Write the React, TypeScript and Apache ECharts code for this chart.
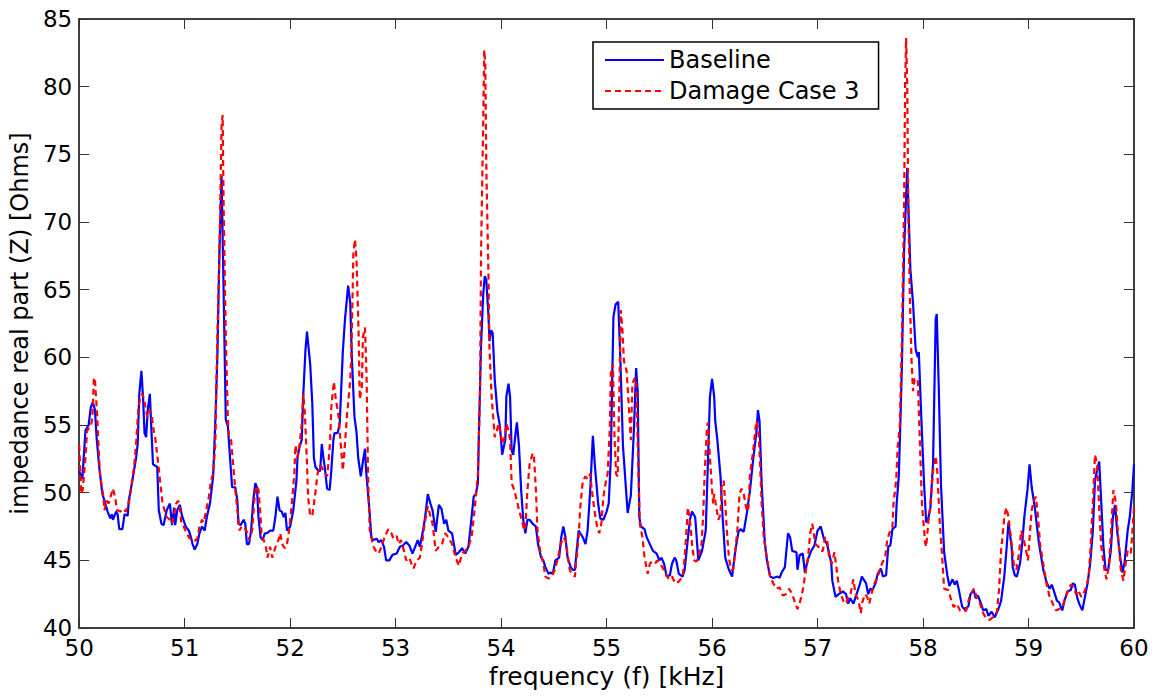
import React, { useEffect, useRef } from "react";
import * as echarts from "echarts";

const FONT = "DejaVu Sans";

const xTitle = "frequency (f) [kHz]";
const yTitle = "impedance real part (Z) [Ohms]";
const seriesNames = ["Baseline", "Damage Case 3"];

const baseFreq = [
  50.0, 50.03, 50.06, 50.09, 50.11, 50.13, 50.15, 50.165, 50.19, 50.22, 50.24, 50.27, 50.295, 50.31, 50.32, 50.35, 50.365, 50.38, 50.41, 50.43,
  50.46, 50.47, 50.5, 50.54, 50.555, 50.57, 50.59, 50.605, 50.62, 50.635, 50.65, 50.67, 50.685, 50.7, 50.72, 50.74, 50.755, 50.78, 50.8, 50.83,
  50.86, 50.88, 50.9, 50.91, 50.93, 50.955, 50.975, 51.01, 51.04, 51.06, 51.075, 51.095, 51.12, 51.14, 51.165, 51.19, 51.21, 51.24, 51.27, 51.29,
  51.31, 51.33, 51.35, 51.37, 51.39, 51.41, 51.43, 51.45, 51.48, 51.5, 51.51, 51.53, 51.56, 51.575, 51.59, 51.61, 51.63, 51.65, 51.67, 51.685,
  51.7, 51.72, 51.74, 51.76, 51.78, 51.81, 51.84, 51.86, 51.88, 51.9, 51.92, 51.94, 51.955, 51.97, 52.0, 52.03, 52.06, 52.07, 52.09, 52.11,
  52.125, 52.145, 52.16, 52.19, 52.21, 52.225, 52.24, 52.27, 52.285, 52.3, 52.315, 52.33, 52.35, 52.375, 52.39, 52.41, 52.42, 52.45, 52.47, 52.5,
  52.52, 52.55, 52.57, 52.585, 52.61, 52.63, 52.645, 52.67, 52.69, 52.71, 52.72, 52.75, 52.77, 52.79, 52.82, 52.84, 52.865, 52.89, 52.91, 52.94,
  52.97, 53.01, 53.04, 53.07, 53.1, 53.13, 53.16, 53.18, 53.21, 53.23, 53.26, 53.28, 53.305, 53.33, 53.35, 53.38, 53.41, 53.435, 53.46, 53.48,
  53.5, 53.535, 53.57, 53.6, 53.63, 53.66, 53.69, 53.72, 53.74, 53.76, 53.78, 53.79, 53.81, 53.83, 53.845, 53.86, 53.88, 53.89, 53.905, 53.92,
  53.94, 53.965, 53.985, 54.0, 54.01, 54.04, 54.05, 54.07, 54.085, 54.1, 54.115, 54.14, 54.15, 54.17, 54.19, 54.21, 54.23, 54.25, 54.27, 54.3,
  54.33, 54.35, 54.38, 54.4, 54.42, 54.45, 54.47, 54.49, 54.515, 54.55, 54.57, 54.59, 54.61, 54.63, 54.66, 54.68, 54.7, 54.71, 54.735, 54.75,
  54.775, 54.8, 54.82, 54.845, 54.87, 54.89, 54.92, 54.94, 54.97, 55.0, 55.02, 55.04, 55.055, 55.065, 55.085, 55.11, 55.13, 55.155, 55.18, 55.2,
  55.23, 55.26, 55.28, 55.295, 55.31, 55.325, 55.36, 55.38, 55.41, 55.44, 55.475, 55.5, 55.52, 55.545, 55.57, 55.6, 55.62, 55.645, 55.66, 55.685,
  55.72, 55.74, 55.765, 55.79, 55.81, 55.84, 55.87, 55.905, 55.94, 55.96, 55.98, 56.0, 56.02, 56.03, 56.05, 56.08, 56.1, 56.125, 56.16, 56.19,
  56.22, 56.25, 56.27, 56.3, 56.33, 56.36, 56.39, 56.42, 56.435, 56.45, 56.47, 56.5, 56.52, 56.55, 56.58, 56.62, 56.64, 56.66, 56.69, 56.72,
  56.74, 56.76, 56.8, 56.81, 56.83, 56.86, 56.88, 56.91, 56.94, 56.97, 57.0, 57.03, 57.06, 57.09, 57.13, 57.14, 57.17, 57.2, 57.24, 57.27,
  57.29, 57.31, 57.34, 57.37, 57.4, 57.42, 57.46, 57.48, 57.5, 57.52, 57.55, 57.57, 57.6, 57.62, 57.65, 57.67, 57.69, 57.71, 57.74, 57.75,
  57.77, 57.785, 57.8, 57.82, 57.85, 57.865, 57.88, 57.905, 57.93, 57.95, 57.96, 57.985, 58.01, 58.03, 58.05, 58.07, 58.095, 58.12, 58.13, 58.15,
  58.17, 58.2, 58.23, 58.25, 58.28, 58.3, 58.32, 58.34, 58.37, 58.39, 58.43, 58.45, 58.48, 58.5, 58.52, 58.55, 58.57, 58.6, 58.62, 58.65,
  58.68, 58.71, 58.74, 58.77, 58.79, 58.81, 58.84, 58.85, 58.87, 58.89, 58.92, 58.94, 58.96, 58.99, 59.01, 59.03, 59.06, 59.08, 59.1, 59.14,
  59.17, 59.2, 59.22, 59.25, 59.27, 59.29, 59.32, 59.34, 59.37, 59.4, 59.42, 59.44, 59.46, 59.48, 59.51, 59.535, 59.56, 59.585, 59.61, 59.63,
  59.65, 59.67, 59.69, 59.71, 59.73, 59.755, 59.78, 59.8, 59.82, 59.84, 59.87, 59.89, 59.91, 59.94, 59.96, 59.985, 60.0,
];
const baseZ = [
  51.6, 51.0, 54.6, 55.0, 56.3, 56.7, 56.1, 54.1, 51.9, 49.9, 49.4, 48.6, 48.1, 48.4, 48.0, 48.6, 48.4, 47.3, 47.3, 48.4,
  48.3, 49.4, 50.7, 52.6, 53.6, 57.3, 59.0, 57.1, 54.4, 54.1, 56.1, 57.3, 54.6, 52.1, 52.0, 51.9, 48.7, 47.7, 47.6, 48.7,
  49.2, 47.6, 48.9, 47.6, 48.7, 49.1, 48.3, 47.5, 47.2, 46.7, 46.2, 45.8, 46.2, 47.0, 47.5, 47.2, 48.2, 49.2, 51.2, 55.1,
  60.0, 68.0, 73.4, 64.6, 55.4, 54.9, 52.6, 50.4, 50.4, 49.4, 47.7, 47.6, 48.0, 47.7, 46.2, 46.2, 47.2, 49.4, 50.7, 50.4,
  48.2, 46.7, 46.5, 47.0, 47.0, 47.2, 47.2, 48.2, 49.7, 48.7, 48.6, 48.2, 48.5, 47.2, 47.5, 48.7, 50.9, 52.6, 53.4, 53.9,
  57.3, 60.5, 61.9, 59.5, 56.6, 52.6, 51.9, 51.6, 51.6, 53.6, 52.6, 51.8, 50.3, 50.2, 51.6, 53.9, 54.4, 54.4, 55.1, 60.5,
  62.8, 65.3, 64.0, 60.0, 55.6, 54.4, 52.6, 51.2, 52.3, 53.25, 51.65, 48.9, 46.7, 46.5, 46.6, 46.35, 46.5, 46.0, 45.0, 45.0,
  45.4, 45.5, 46.0, 46.1, 46.35, 46.1, 45.5, 45.9, 46.5, 46.0, 47.2, 48.2, 49.9, 49.2, 48.7, 47.1, 49.1, 48.8, 47.7, 48.0,
  47.2, 47.0, 45.4, 45.6, 45.9, 45.5, 46.0, 48.2, 49.7, 49.9, 50.7, 54.6, 60.9, 64.6, 66.0, 65.7, 63.1, 61.2, 62.0, 61.8,
  58.3, 56.0, 55.1, 53.9, 52.8, 53.9, 57.1, 58.05, 57.1, 53.1, 52.8, 54.6, 55.2, 53.4, 50.2, 48.0, 47.0, 48.0, 48.0, 47.7,
  47.5, 46.2, 45.2, 45.0, 44.5, 44.0, 44.1, 44.0, 45.0, 45.2, 46.7, 47.5, 46.7, 45.2, 44.5, 44.3, 44.3, 45.2, 47.2, 47.0,
  46.7, 46.2, 47.2, 50.2, 54.2, 51.9, 49.2, 48.1, 48.0, 48.6, 49.2, 52.5, 59.0, 63.0, 63.9, 64.1, 60.0, 53.5, 50.7, 48.5,
  49.8, 54.8, 59.2, 57.5, 48.2, 47.5, 47.3, 46.7, 46.2, 45.7, 45.5, 45.0, 45.2, 44.75, 43.8, 43.9, 44.75, 45.2, 45.0, 44.0,
  43.8, 44.3, 46.2, 48.0, 48.6, 48.2, 45.0, 45.7, 47.2, 52.1, 57.1, 58.4, 57.1, 55.3, 53.9, 51.2, 48.2, 45.2, 44.3, 43.8,
  45.7, 47.1, 47.3, 47.1, 48.5, 50.2, 52.5, 54.4, 56.1, 55.3, 50.7, 46.3, 45.0, 43.8, 43.7, 43.8, 43.7, 44.1, 44.5, 47.0,
  46.7, 45.7, 45.6, 44.3, 45.4, 45.5, 44.1, 45.1, 45.7, 46.1, 47.2, 47.5, 46.6, 46.2, 44.8, 43.5, 42.3, 42.5, 42.7, 42.5,
  41.8, 42.2, 41.8, 42.5, 43.2, 43.8, 43.3, 42.5, 42.9, 42.8, 43.3, 44.0, 44.4, 43.8, 43.9, 46.0, 46.1, 47.3, 47.5, 49.2,
  51.2, 55.1, 59.5, 67.8, 74.0, 70.2, 66.5, 64.0, 60.6, 60.0, 60.4, 55.3, 50.6, 47.8, 48.1, 48.9, 52.2, 62.8, 63.2, 57.5,
  50.6, 45.6, 43.9, 43.1, 43.6, 43.2, 43.5, 42.8, 41.6, 41.4, 41.6, 42.5, 42.8, 42.2, 42.4, 41.8, 41.3, 41.4, 40.9, 41.2,
  40.8, 41.3, 42.0, 43.8, 45.7, 47.8, 46.0, 44.5, 43.9, 43.8, 44.8, 46.2, 48.2, 50.2, 52.1, 50.4, 48.9, 47.5, 46.2, 44.3,
  43.4, 42.9, 43.2, 42.5, 42.0, 41.9, 41.3, 42.0, 42.7, 42.8, 43.3, 43.2, 42.3, 41.8, 41.3, 42.3, 43.3, 44.8, 47.2, 50.9,
  51.65, 52.3, 49.2, 46.0, 44.3, 44.3, 45.7, 48.2, 49.1, 47.2, 45.2, 44.1, 44.8, 47.2, 48.2, 50.2, 52.1,
];

const damFreq = [
  50.0, 50.02, 50.035, 50.06, 50.075, 50.11, 50.125, 50.14, 50.15, 50.17, 50.19, 50.2, 50.23, 50.24, 50.26, 50.28, 50.305, 50.32, 50.34, 50.36,
  50.39, 50.42, 50.44, 50.47, 50.49, 50.52, 50.54, 50.56, 50.58, 50.6, 50.62, 50.645, 50.67, 50.69, 50.71, 50.72, 50.75, 50.77, 50.79, 50.81,
  50.83, 50.86, 50.88, 50.9, 50.92, 50.94, 50.95, 50.97, 50.99, 51.02, 51.04, 51.07, 51.09, 51.12, 51.14, 51.165, 51.18, 51.21, 51.23, 51.25,
  51.27, 51.29, 51.31, 51.33, 51.35, 51.36, 51.37, 51.39, 51.41, 51.42, 51.44, 51.46, 51.48, 51.5, 51.52, 51.54, 51.56, 51.59, 51.615, 51.64,
  51.66, 51.68, 51.7, 51.72, 51.73, 51.75, 51.77, 51.785, 51.81, 51.83, 51.85, 51.87, 51.89, 51.905, 51.93, 51.95, 51.97, 51.99, 52.01, 52.04,
  52.05, 52.07, 52.09, 52.11, 52.125, 52.14, 52.16, 52.17, 52.19, 52.21, 52.235, 52.26, 52.28, 52.3, 52.32, 52.35, 52.36, 52.38, 52.39, 52.415,
  52.43, 52.46, 52.47, 52.49, 52.5, 52.52, 52.54, 52.57, 52.58, 52.6, 52.615, 52.63, 52.65, 52.66, 52.68, 52.69, 52.71, 52.725, 52.74, 52.755,
  52.79, 52.82, 52.84, 52.865, 52.9, 52.93, 52.96, 52.98, 53.01, 53.03, 53.05, 53.08, 53.1, 53.13, 53.15, 53.17, 53.2, 53.23, 53.25, 53.275,
  53.305, 53.35, 53.38, 53.41, 53.44, 53.47, 53.5, 53.535, 53.57, 53.6, 53.63, 53.66, 53.69, 53.72, 53.755, 53.78, 53.8, 53.81, 53.83, 53.84,
  53.85, 53.86, 53.88, 53.89, 53.91, 53.93, 53.94, 53.96, 53.975, 53.99, 54.006, 54.02, 54.04, 54.05, 54.07, 54.085, 54.1, 54.125, 54.15, 54.17,
  54.195, 54.22, 54.23, 54.25, 54.27, 54.295, 54.31, 54.33, 54.345, 54.37, 54.4, 54.42, 54.45, 54.48, 54.51, 54.54, 54.565, 54.59, 54.61, 54.63,
  54.65, 54.67, 54.7, 54.71, 54.735, 54.75, 54.775, 54.8, 54.82, 54.845, 54.86, 54.885, 54.91, 54.93, 54.95, 54.97, 54.995, 55.01, 55.03, 55.04,
  55.06, 55.075, 55.09, 55.105, 55.12, 55.135, 55.15, 55.165, 55.19, 55.215, 55.23, 55.245, 55.27, 55.28, 55.3, 55.315, 55.34, 55.36, 55.39, 55.41,
  55.43, 55.46, 55.48, 55.5, 55.53, 55.56, 55.59, 55.62, 55.65, 55.68, 55.72, 55.74, 55.76, 55.77, 55.79, 55.81, 55.83, 55.85, 55.87, 55.9,
  55.915, 55.93, 55.95, 55.96, 55.98, 56.0, 56.01, 56.02, 56.04, 56.06, 56.08, 56.09, 56.11, 56.125, 56.14, 56.16, 56.18, 56.2, 56.22, 56.24,
  56.26, 56.28, 56.3, 56.33, 56.345, 56.36, 56.39, 56.41, 56.42, 56.44, 56.455, 56.47, 56.49, 56.52, 56.55, 56.58, 56.61, 56.64, 56.67, 56.7,
  56.73, 56.76, 56.79, 56.81, 56.83, 56.86, 56.88, 56.91, 56.93, 56.95, 56.96, 56.98, 57.01, 57.03, 57.05, 57.07, 57.09, 57.11, 57.135, 57.16,
  57.17, 57.195, 57.22, 57.245, 57.27, 57.29, 57.31, 57.34, 57.36, 57.39, 57.41, 57.42, 57.45, 57.47, 57.49, 57.52, 57.54, 57.57, 57.59, 57.61,
  57.64, 57.66, 57.68, 57.71, 57.72, 57.745, 57.76, 57.78, 57.8, 57.82, 57.83, 57.84, 57.85, 57.86, 57.875, 57.89, 57.905, 57.92, 57.95, 57.97,
  57.99, 58.02, 58.03, 58.05, 58.07, 58.095, 58.12, 58.135, 58.16, 58.18, 58.2, 58.24, 58.27, 58.29, 58.32, 58.35, 58.38, 58.41, 58.44, 58.48,
  58.51, 58.54, 58.57, 58.6, 58.63, 58.665, 58.7, 58.72, 58.74, 58.77, 58.79, 58.81, 58.84, 58.86, 58.885, 58.91, 58.93, 58.95, 58.97, 58.995,
  59.01, 59.03, 59.05, 59.07, 59.09, 59.11, 59.14, 59.17, 59.2, 59.23, 59.26, 59.29, 59.32, 59.36, 59.38, 59.4, 59.43, 59.45, 59.47, 59.5,
  59.52, 59.545, 59.57, 59.585, 59.61, 59.63, 59.65, 59.67, 59.69, 59.72, 59.74, 59.765, 59.79, 59.805, 59.83, 59.85, 59.875, 59.9, 59.92, 59.94,
  59.97, 59.985, 60.0,
];
const damZ = [
  53.5, 49.9, 50.3, 52.6, 54.6, 54.9, 55.5, 58.5, 58.3, 55.8, 52.4, 51.2, 49.7, 48.7, 49.4, 49.2, 49.9, 50.3, 49.7, 48.7,
  48.6, 48.8, 48.6, 49.2, 50.2, 51.9, 53.6, 56.1, 57.1, 57.3, 56.7, 55.6, 56.1, 55.6, 54.4, 54.1, 52.1, 50.7, 49.2, 48.7,
  48.2, 48.0, 47.7, 48.4, 49.2, 49.4, 49.1, 47.7, 47.5, 47.0, 46.7, 46.5, 46.4, 46.6, 47.5, 48.0, 47.8, 48.9, 49.7, 50.9,
  51.4, 53.5, 61.5, 67.8, 77.1, 77.9, 70.9, 61.5, 55.3, 54.1, 53.9, 52.1, 50.2, 48.7, 47.2, 47.5, 47.5, 47.1, 46.5, 47.2,
  49.4, 50.5, 50.2, 48.2, 46.7, 46.5, 46.0, 45.2, 46.0, 45.2, 45.7, 46.2, 46.5, 47.0, 46.1, 45.9, 46.2, 47.2, 48.7, 51.4,
  53.5, 52.6, 53.6, 55.1, 57.3, 55.8, 52.1, 49.7, 48.3, 48.3, 49.7, 51.4, 52.0, 51.9, 51.5, 51.2, 51.9, 53.9, 56.3, 58.2,
  57.1, 55.6, 54.6, 52.6, 51.65, 53.6, 55.8, 58.3, 60.0, 67.8, 68.7, 67.1, 61.5, 56.9, 57.8, 61.5, 62.2, 58.4, 50.7, 47.2,
  46.0, 45.6, 45.5, 46.0, 46.8, 47.3, 47.0, 46.6, 46.8, 46.2, 46.5, 45.7, 45.0, 45.2, 44.75, 44.4, 45.0, 45.2, 46.2, 47.7,
  49.0, 47.7, 45.7, 46.0, 46.2, 47.0, 46.7, 46.2, 45.2, 44.6, 45.5, 45.7, 46.0, 46.7, 49.2, 51.4, 57.1, 67.8, 77.1, 82.7,
  81.7, 74.0, 66.2, 60.6, 57.1, 55.1, 54.1, 54.6, 55.1, 54.6, 53.9, 53.6, 54.4, 55.1, 54.6, 53.9, 50.7, 50.2, 49.4, 48.7,
  48.0, 47.2, 47.5, 50.2, 52.1, 52.8, 52.9, 50.2, 47.2, 45.7, 44.75, 43.8, 43.65, 43.8, 44.3, 45.2, 46.2, 46.7, 46.5, 45.5,
  44.3, 44.0, 43.8, 44.75, 46.7, 48.9, 50.9, 51.2, 51.0, 51.4, 50.2, 48.7, 47.5, 47.0, 47.7, 49.7, 50.9, 51.4, 54.6, 58.8,
  59.5, 54.1, 51.4, 51.2, 57.1, 63.5, 62.0, 59.7, 59.0, 55.8, 53.9, 58.1, 58.5, 58.4, 52.1, 47.7, 46.7, 45.2, 44.0, 44.75,
  44.9, 44.75, 45.0, 44.75, 44.5, 44.0, 43.6, 43.8, 43.3, 43.4, 43.8, 45.2, 47.5, 48.9, 48.0, 46.2, 45.0, 44.9, 45.2, 46.2,
  48.2, 51.4, 54.6, 55.2, 52.6, 50.2, 49.2, 49.9, 48.9, 48.0, 48.4, 50.4, 50.9, 49.2, 47.2, 45.2, 44.3, 44.3, 45.7, 47.2,
  49.9, 50.3, 49.9, 48.6, 48.9, 51.4, 53.1, 54.6, 55.3, 54.6, 52.1, 49.2, 46.7, 45.2, 43.8, 43.3, 42.9, 43.0, 42.4, 42.5,
  42.9, 42.5, 41.8, 41.4, 41.8, 42.8, 43.8, 45.2, 47.0, 47.7, 47.2, 46.2, 46.0, 45.7, 45.7, 46.7, 46.6, 45.2, 44.75, 45.6,
  45.0, 43.5, 42.5, 42.0, 41.8, 42.3, 42.4, 43.6, 42.5, 42.0, 41.1, 41.8, 42.5, 42.3, 41.8, 42.8, 43.3, 43.8, 44.3, 44.75,
  45.2, 46.5, 47.0, 47.5, 49.2, 50.9, 53.4, 55.0, 61.5, 70.9, 80.2, 83.6, 80.2, 70.9, 64.6, 60.0, 57.5, 58.4, 58.4, 53.8,
  49.1, 46.3, 46.0, 47.8, 49.1, 51.6, 52.7, 51.6, 47.6, 45.4, 42.9, 42.8, 42.0, 41.55, 41.8, 41.3, 41.2, 41.3, 42.3, 42.9,
  42.3, 41.8, 41.1, 40.7, 40.6, 40.8, 41.2, 42.8, 45.7, 48.2, 48.9, 48.2, 46.2, 44.75, 44.3, 45.5, 47.2, 46.7, 46.0, 45.0,
  46.7, 48.7, 49.4, 49.7, 48.2, 46.2, 44.75, 43.3, 42.3, 41.8, 41.3, 41.4, 41.55, 42.5, 42.8, 43.2, 43.0, 42.5, 42.8, 42.3,
  42.5, 43.0, 43.8, 45.5, 49.2, 52.8, 52.1, 48.9, 46.0, 44.3, 43.6, 44.75, 48.2, 50.2, 49.2, 46.7, 44.3, 43.5, 44.75, 45.7,
  45.5, 47.2, 48.9,
];

const xMin = 50, xMax = 60, xStep = 1;
const yMin = 40, yMax = 85, yStep = 5;

function zip(xs: number[], ys: number[]) {
  const n = Math.min(xs.length, ys.length);
  const out: number[][] = [];
  for (let i = 0; i < n; i++) out.push([xs[i], ys[i]]);
  return out;
}

export default function App() {
  const ref = useRef<HTMLDivElement>(null);
  useEffect(() => {
    if (!ref.current) return;
    const chart = echarts.init(ref.current, undefined, { renderer: "svg" });
    const axisLine = { show: true, lineStyle: { color: "#000", width: 1.5 } };
    const tick = { show: true, inside: true, length: 10, lineStyle: { color: "#333", width: 1 } };
    const label = { fontSize: 23, color: "#000", fontFamily: FONT };
    chart.setOption({
      animation: false,
      backgroundColor: "#fff",
      textStyle: { fontFamily: FONT },
      grid: { left: 75, right: 22, top: 19, bottom: 70 },
      xAxis: [
        {
          type: "value", min: xMin, max: xMax, interval: xStep, position: "bottom",
          name: xTitle, nameLocation: "middle", nameGap: 34,
          nameTextStyle: { fontSize: 25, color: "#000", fontFamily: FONT },
          axisLine, axisTick: tick, axisLabel: { ...label, margin: 8 }, splitLine: { show: false },
        },
        {
          type: "value", min: xMin, max: xMax, interval: xStep, position: "top",
          axisLine, axisTick: tick, axisLabel: { show: false }, splitLine: { show: false },
        },
      ],
      yAxis: [
        {
          type: "value", min: yMin, max: yMax, interval: yStep, position: "left",
          name: yTitle, nameLocation: "middle", nameGap: 44, nameRotate: 90,
          nameTextStyle: { fontSize: 24, color: "#000", fontFamily: FONT },
          axisLine, axisTick: tick, axisLabel: { ...label, margin: 7 }, splitLine: { show: false },
        },
        {
          type: "value", min: yMin, max: yMax, interval: yStep, position: "right",
          axisLine, axisTick: tick, axisLabel: { show: false }, splitLine: { show: false },
        },
      ],
      legend: {
        data: seriesNames,
        orient: "vertical",
        left: 593,
        top: 42,
        padding: [6, 19, 6, 11],
        itemWidth: 59,
        itemHeight: 14,
        itemGap: 7,
        borderColor: "#000",
        borderWidth: 1.5,
        backgroundColor: "#fff",
        itemStyle: { color: "rgba(0,0,0,0)", borderWidth: 0, opacity: 0 },
        textStyle: { fontSize: 24, color: "#000", fontFamily: FONT },
      },
      series: [
        {
          name: seriesNames[0], type: "line", xAxisIndex: 0, yAxisIndex: 0,
          data: zip(baseFreq, baseZ), symbol: "none", showSymbol: false,
          lineStyle: { color: "#0000ff", width: 2.2 }, itemStyle: { color: "#0000ff" },
        },
        {
          name: seriesNames[1], type: "line", xAxisIndex: 0, yAxisIndex: 0,
          data: zip(damFreq, damZ), symbol: "none", showSymbol: false,
          lineStyle: { color: "#ff0000", width: 2.2, type: [6, 4] }, itemStyle: { color: "#ff0000" },
        },
      ],
    });
    return () => chart.dispose();
  }, []);
  return (
    <div
      ref={ref}
      style={{ position: "absolute", left: 0, top: 0, width: 1156, height: 698 }}
    />
  );
}
